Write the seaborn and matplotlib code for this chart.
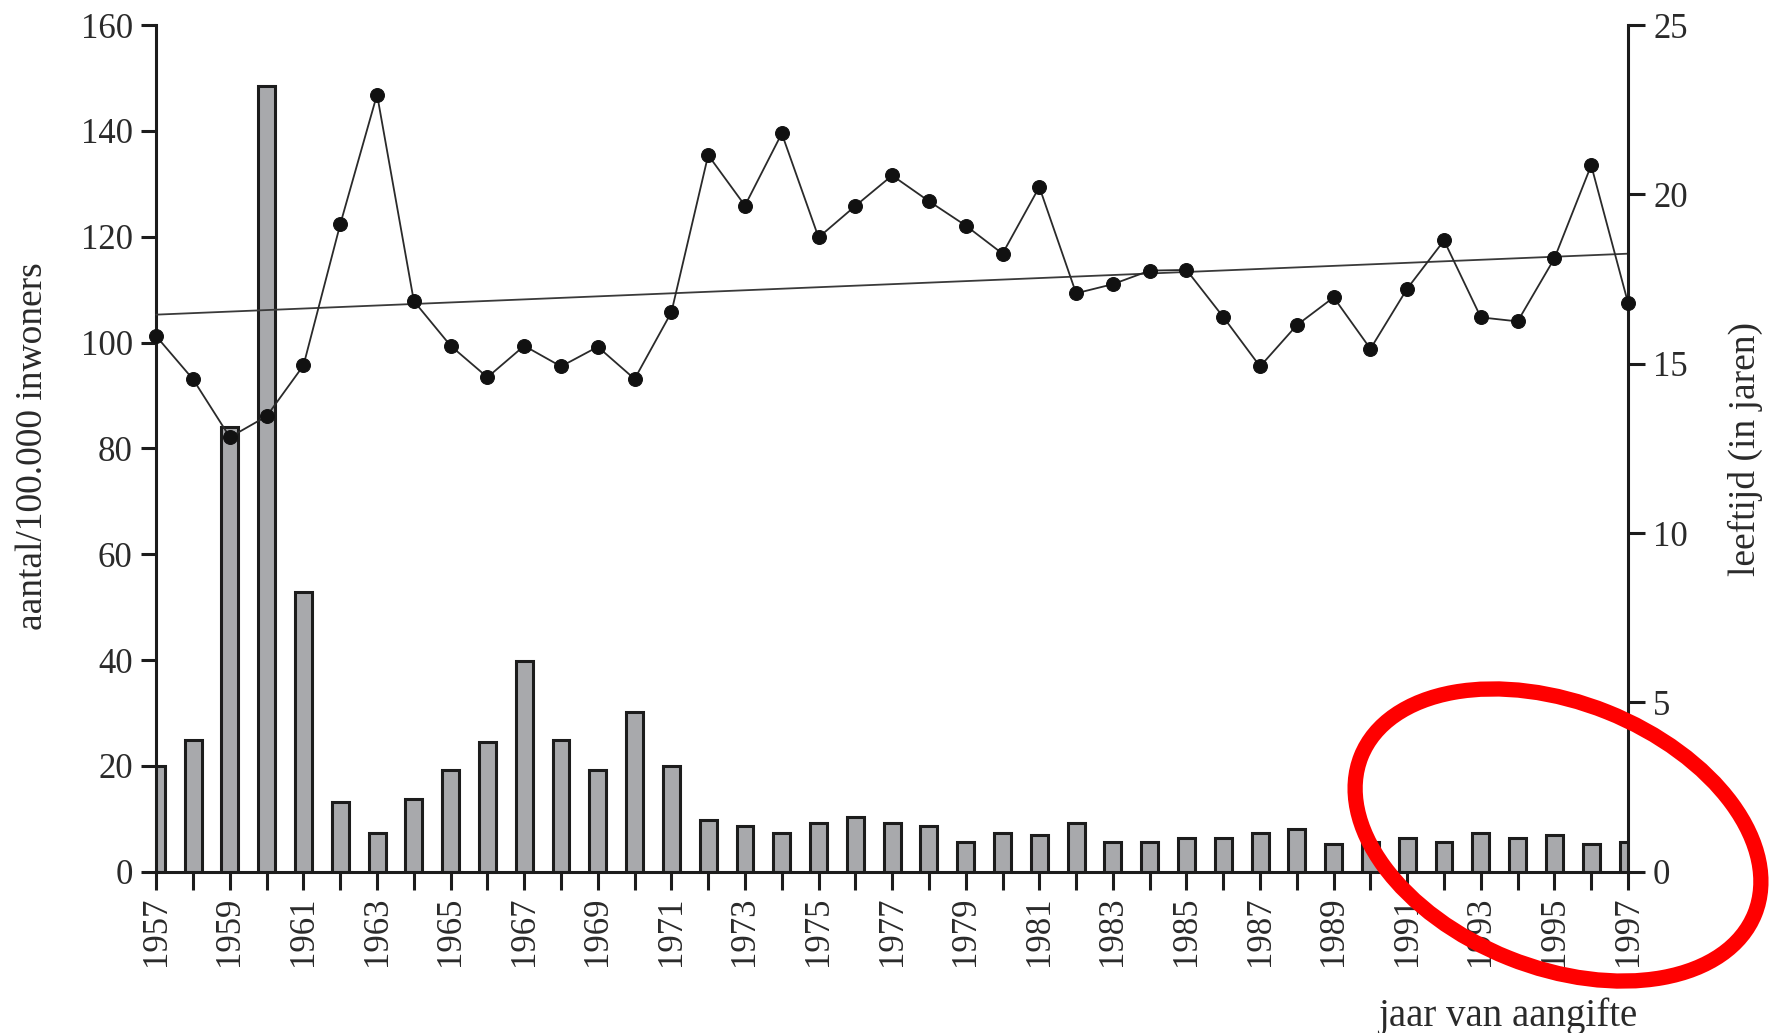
import matplotlib
matplotlib.use("Agg")
import matplotlib.pyplot as plt
import numpy as np
import pandas as pd
import seaborn as sns
from matplotlib.patches import Ellipse

# Reporting year
years = list(range(1957, 1998))

# Notified cases per 100,000 inhabitants (left axis, bars)
rate_per_100k = [
    20.0, 24.9, 84.0, 148.5, 52.9, 13.1, 7.4, 13.7, 19.3, 24.5,
    39.8, 24.9, 19.3, 30.1, 19.9, 9.8, 8.7, 7.4, 9.2, 10.3,
    9.2, 8.7, 5.7, 7.4, 6.9, 9.2, 5.7, 5.7, 6.3, 6.3,
    7.4, 8.0, 5.2, 5.7, 6.3, 5.7, 7.4, 6.3, 6.9, 5.2,
    5.7,
]

# Mean age in years (right axis, line)
mean_age = [
    15.81, 14.54, 12.83, 13.45, 14.95, 19.12, 22.95, 16.85, 15.53, 14.60,
    15.53, 14.92, 15.50, 14.55, 16.52, 21.16, 19.67, 21.80, 18.73, 19.66,
    20.56, 19.80, 19.08, 18.25, 20.22, 17.08, 17.35, 17.75, 17.77, 16.38,
    14.92, 16.14, 16.96, 15.44, 17.22, 18.64, 16.37, 16.25, 18.11, 20.86,
    16.80,
]

# Linear trend of the mean age, start and end value
trend_age = [16.45, 18.25]

left_ticks = [0, 20, 40, 60, 80, 100, 120, 140, 160]
right_ticks = [0, 5, 10, 15, 20, 25]
year_labels = [str(y) if (y - 1957) % 2 == 0 else "" for y in years]

left_title = "aantal/100.000 inwoners"
right_title = "leeftijd (in jaren)"
x_title = "jaar van aangifte"

df = pd.DataFrame({"year": years, "rate": rate_per_100k, "age": mean_age})

sns.set_style("ticks")
plt.rcParams["font.family"] = ["Liberation Serif", "DejaVu Serif"]

W, H = 1789, 1033
fig = plt.figure(figsize=(W / 100, H / 100), dpi=100)
fig.patch.set_facecolor("white")

x0, x1 = 156.3, 1628.0
ytop, ybot = 25.1, 871.7
ax = fig.add_axes([x0 / W, (H - ybot) / H, (x1 - x0) / W, (ybot - ytop) / H])

ink = "#1c1c1c"
txt = "#2a2a2a"

sns.barplot(
    data=df, x="year", y="rate", native_scale=True, width=0.46,
    color="#a8a9ac", saturation=1, edgecolor=ink, linewidth=2.2, ax=ax,
)
ax.set_xlim(1957, 1997)
ax.set_ylim(0, 160)
ax.set_yticks(left_ticks)
ax.set_yticklabels([str(t) for t in left_ticks])
ax.set_xticks(years)
ax.set_xticklabels(year_labels, rotation=90)
ax.set_xlabel("")
ax.set_ylabel("")

ax2 = ax.twinx()
ax2.plot(years[:1] + years[-1:], trend_age, color="#3a3a3a", lw=1.3, zorder=2,
         clip_on=False)
sns.lineplot(
    data=df, x="year", y="age", ax=ax2, color="#2a2a2a", linewidth=1.3,
    marker="o", markersize=10, markerfacecolor="#111111",
    markeredgecolor="#111111", zorder=3,
)
for ln in ax2.lines:
    ln.set_clip_on(False)
ax2.set_ylim(0, 25)
ax2.set_yticks(right_ticks)
ax2.set_yticklabels([str(t) for t in right_ticks])
ax2.set_xlim(1957, 1997)
ax2.set_xlabel("")
ax2.set_ylabel("")

for a in (ax, ax2):
    a.spines["top"].set_visible(False)
    for s in a.spines.values():
        s.set_linewidth(2.2)
        s.set_color(ink)
    a.set_facecolor("none")
ax.spines["right"].set_visible(False)
ax2.spines["left"].set_visible(False)
ax2.spines["bottom"].set_visible(False)
ax2.spines["right"].set_visible(True)

ax.tick_params(axis="y", direction="out", length=11, width=2.2, color=ink,
               labelsize=25, labelcolor=txt, pad=6)
ax.tick_params(axis="x", direction="out", length=13, width=2.2, color=ink,
               labelsize=25, labelcolor=txt, pad=5)
ax2.tick_params(axis="y", direction="out", length=12, width=2.2, color=ink,
                labelsize=25, labelcolor=txt, pad=6)

fig.text(33 / W, 1 - 446 / H, left_title, rotation=90, ha="center",
         va="center", fontsize=27, color=txt)
fig.text(1745 / W, 1 - 449 / H, right_title, rotation=90, ha="center",
         va="center", fontsize=27, color=txt)
fig.text(1637 / W, 1 - 1026 / H, x_title, ha="right", va="baseline",
         fontsize=28, color=txt)

# Red ring drawn over the figure in pixel units
ov = fig.add_axes([0, 0, 1, 1])
ov.set_xlim(0, W)
ov.set_ylim(0, H)
ov.axis("off")
ov.add_patch(Ellipse((1558, H - 835), 424, 265, angle=-21.8, fill=False,
                     ec="#ff0000", lw=11))

fig.savefig("out.png", dpi=100, facecolor="white")
